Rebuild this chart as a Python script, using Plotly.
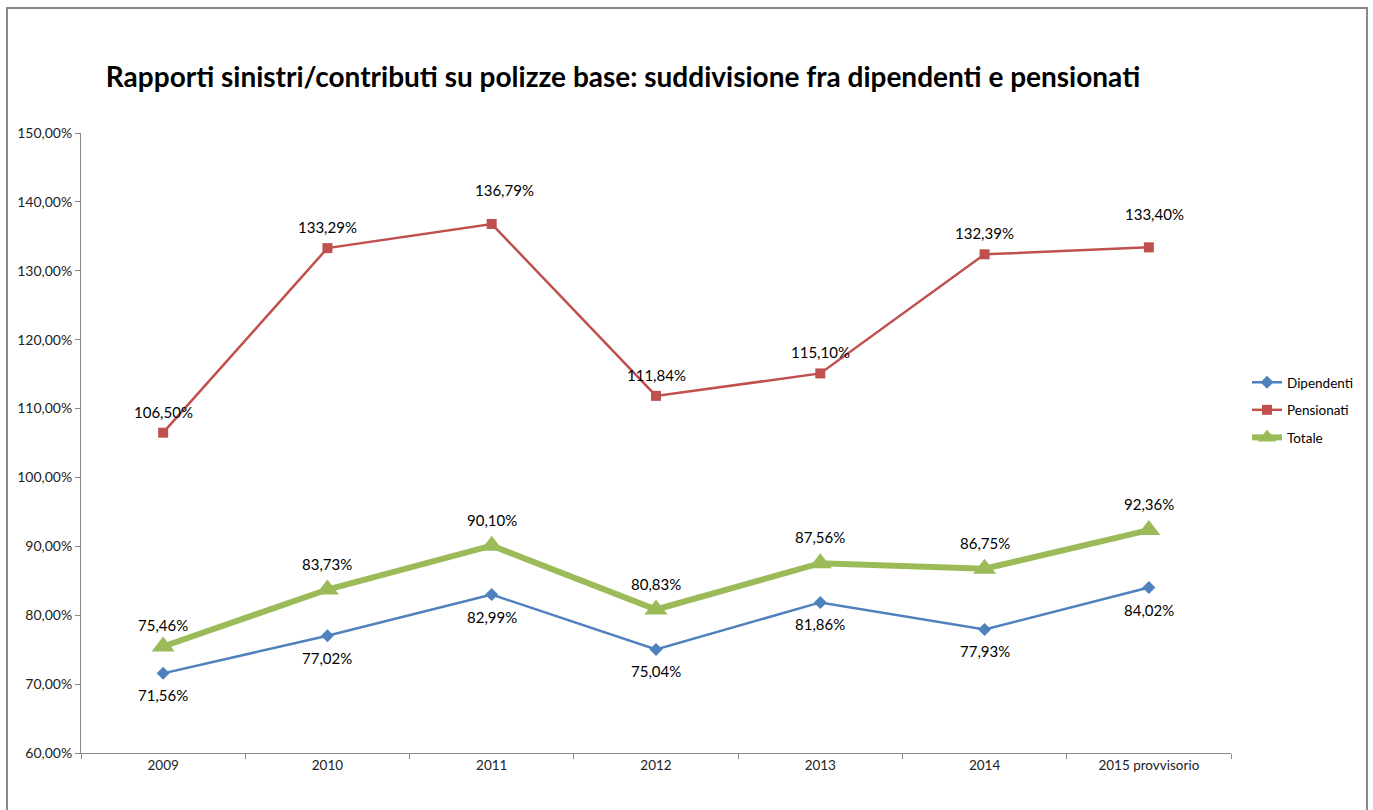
import plotly.graph_objects as go

# Loss ratios (claims / contributions) on base policies, in percent
anni = ["2009", "2010", "2011", "2012", "2013", "2014", "2015 provvisorio"]
dipendenti = [71.56, 77.02, 82.99, 75.04, 81.86, 77.93, 84.02]
pensionati = [106.50, 133.29, 136.79, 111.84, 115.10, 132.39, 133.40]
totale = [75.46, 83.73, 90.10, 80.83, 87.56, 86.75, 92.36]

FONT = "Lato, Carlito, Calibri, sans-serif"
W, H = 1373, 810
L, R, T, B = 81, 142, 133, 57
PW, PH = W - L - R, H - T - B


def fmt(v):
    return f"{v:.2f}".replace(".", ",") + "%"


fig = go.Figure()

fig.add_trace(go.Scatter(
    x=anni, y=[v / 100 for v in dipendenti], name="Dipendenti",
    mode="lines+markers", line=dict(color="#4F81BD", width=2.5),
    marker=dict(symbol="diamond", size=10, color="#4F81BD"),
    legendgroup="a", hoverinfo="skip"))
fig.add_trace(go.Scatter(
    x=anni, y=[v / 100 for v in pensionati], name="Pensionati",
    mode="lines+markers", line=dict(color="#C0504D", width=2.5),
    marker=dict(symbol="square", size=10, color="#C0504D"),
    legendgroup="b", hoverinfo="skip"))
fig.add_trace(go.Scatter(
    x=anni, y=[v / 100 for v in totale], name="Totale",
    mode="lines+markers", line=dict(color="#9BBB59", width=6),
    marker=dict(symbol="triangle-up", size=20, color="#9BBB59"),
    legendgroup="c", hoverinfo="skip"))

# Data labels: below for Dipendenti, above for the others.
# Category positions are given by index so numeric-looking names stay categories.
label_style = {
    "dip": dict(dy=-22, extra={}),
    "pen": dict(dy=21, extra={2: (13, 13), 6: (6, 12)}),
    "tot": dict(dy=26, extra={0: (0, -4)}),
}
annotations = []
for key, serie in (("dip", dipendenti), ("pen", pensionati), ("tot", totale)):
    st = label_style[key]
    for i, v in enumerate(serie):
        dx, ddy = st["extra"].get(i, (0, 0))
        annotations.append(dict(
            x=i, y=v / 100, xref="x", yref="y", text=fmt(v),
            showarrow=False, yshift=st["dy"] + ddy, xshift=dx,
            font=dict(family=FONT, size=15, color="#000000")))

# Outer chart frame
x0 = (7 - L) / PW
x1 = (1367 - L) / PW
y1 = (H - B - 8) / PH
y0 = (H - B - 815) / PH

fig.update_layout(
    width=W, height=H,
    margin=dict(l=L, r=R, t=T, b=B, autoexpand=False),
    paper_bgcolor="white", plot_bgcolor="white",
    separators=",.",
    title=dict(
        text="<b>Rapporti sinistri/contributi su polizze base: suddivisione fra dipendenti e pensionati</b>",
        font=dict(family=FONT, size=28, color="#000000"),
        xref="container", x=623 / W, xanchor="center",
        yref="container", y=1 - 77 / H, yanchor="middle"),
    xaxis=dict(
        type="category", range=[-0.5, 6.5],
        showline=True, linecolor="#888888", linewidth=1,
        ticks="outside", tickson="boundaries", ticklen=5, tickcolor="#888888",
        showgrid=False, zeroline=False,
        tickfont=dict(family=FONT, size=13.5, color="#222222")),
    yaxis=dict(
        range=[0.6, 1.5], dtick=0.1, tickformat=".2%",
        showline=True, linecolor="#888888", linewidth=1,
        ticks="outside", ticklen=5, tickcolor="#888888",
        showgrid=False, zeroline=False,
        tickfont=dict(family=FONT, size=14, color="#222222")),
    legend=dict(
        x=(1247 - L) / PW, xanchor="left",
        y=(H - B - 410) / PH, yanchor="middle",
        font=dict(family=FONT, size=13.5, color="#000000"),
        tracegroupgap=7, bgcolor="rgba(0,0,0,0)"),
    annotations=annotations,
    shapes=[dict(type="rect", xref="paper", yref="paper",
                 x0=x0, x1=x1, y0=y0, y1=y1,
                 line=dict(color="#888888", width=2), layer="below")],
)

fig.write_html("out.html")
